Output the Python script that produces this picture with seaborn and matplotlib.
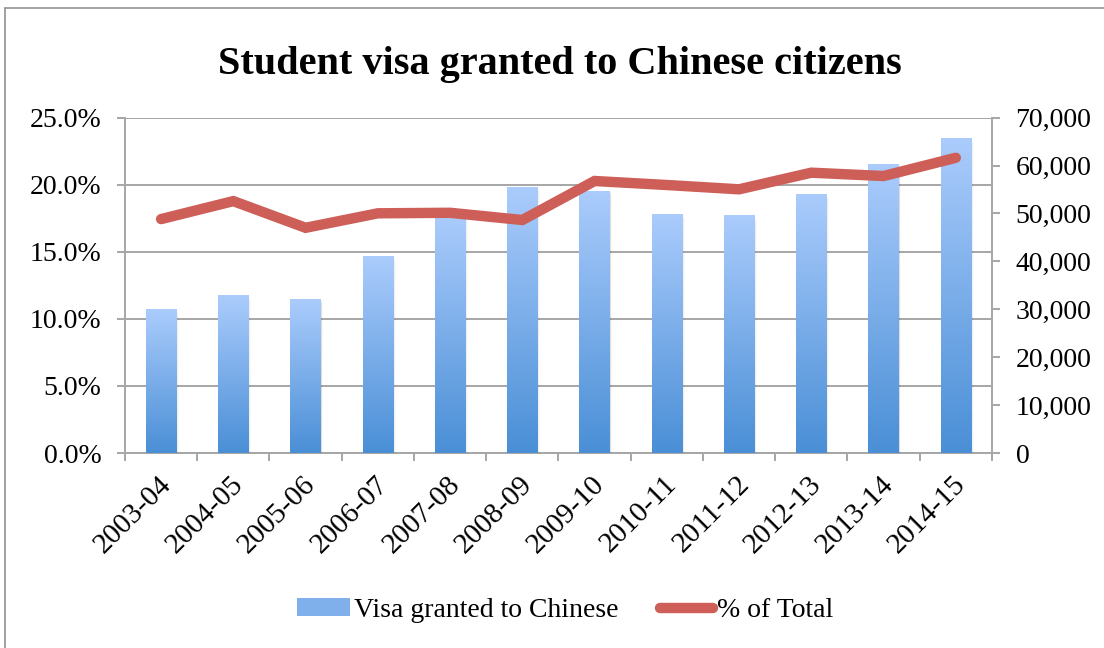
import numpy as np
import pandas as pd
import matplotlib
matplotlib.use("Agg")
import matplotlib.pyplot as plt
import matplotlib.transforms as mtransforms
from matplotlib.patches import Rectangle, Patch
from matplotlib.lines import Line2D
from matplotlib.ticker import FixedLocator, FuncFormatter
import seaborn as sns

# Student visas granted to Chinese citizens, by academic year
years = ["2003-04", "2004-05", "2005-06", "2006-07", "2007-08", "2008-09",
         "2009-10", "2010-11", "2011-12", "2012-13", "2013-14", "2014-15"]
visas = [30000, 32900, 32100, 41100, 49500, 55500,
         54700, 49900, 49600, 54100, 60300, 65700]
share = [0.1744, 0.1878, 0.1679, 0.1787, 0.1791, 0.1737,
         0.2028, 0.1998, 0.1966, 0.2090, 0.2065, 0.2201]

sns.set_theme(style="white")
plt.rcParams["font.family"] = ["Liberation Serif", "DejaVu Serif"]
plt.rcParams["text.color"] = "black"

df = pd.DataFrame({"year": years, "visas": visas, "share": share})
n = len(years)

grid_col = "#A6A6A6"
line_col = "#CD5F58"
top_col = np.array([0.67, 0.80, 0.99])
bot_col = np.array([0.29, 0.56, 0.84])
FS = 20

fig = plt.figure(figsize=(11.04, 6.48), dpi=100)
ax = fig.add_axes([0.1132, 0.3009, 0.7853, 0.5175])
ax_bar = ax.twinx()
ax_line = ax.twinx()

# percent axis: left labels and horizontal gridlines
ax.set_ylim(0, 0.25)
ax.set_xlim(-0.5, n - 0.5)
ax.yaxis.set_major_locator(FixedLocator(np.arange(0, 0.2501, 0.05)))
ax.yaxis.set_major_formatter(FuncFormatter(lambda v, p: f"{v*100:.1f}%"))
ax.grid(axis="y", color=grid_col, linewidth=1.4)
ax.grid(axis="x", visible=False)

# visa counts: bars with gradient fill
sns.barplot(data=df, x="year", y="visas", ax=ax_bar, width=0.42,
            color=bot_col, saturation=1, zorder=3)
ax_bar.set_ylim(0, 70000)
ax_bar.yaxis.set_major_locator(FixedLocator(np.arange(0, 70001, 10000)))
ax_bar.yaxis.set_major_formatter(FuncFormatter(lambda v, p: f"{int(v):,}"))
ax_bar.grid(False)
ax_bar.set_xlabel("")
ax_bar.set_ylabel("")

grad = np.linspace(0, 1, 256)[:, None]
cols = (top_col[None, :] * (1 - grad) + bot_col[None, :] * grad)[:, None, :]
for patch in list(ax_bar.patches):
    x0, y0 = patch.get_x(), patch.get_y()
    w, h = patch.get_width(), patch.get_height()
    # soft shadow to the right of each bar
    for k, a in enumerate((0.07, 0.04, 0.02)):
        ax_bar.add_patch(Rectangle((x0 + 0.012 * (k + 1), y0), w, h - 300 * (k + 1),
                                   facecolor="#000000", alpha=a,
                                   edgecolor="none", zorder=2))
    patch.set_facecolor("none")
    patch.set_edgecolor("none")
    im = ax_bar.imshow(cols, extent=(x0, x0 + w, y0, y0 + h), aspect="auto",
                       origin="upper", zorder=3, interpolation="bilinear")
    im.set_clip_path(patch)
ax_bar.set_xlim(-0.5, n - 0.5)
ax_bar.set_ylim(0, 70000)

# share of total: thick line on top
sns.lineplot(x=np.arange(n), y=share, ax=ax_line, color=line_col,
             linewidth=7.5, sort=False, legend=False)
for ln in ax_line.lines:
    ln.set_solid_capstyle("round")
    ln.set_solid_joinstyle("miter")
ax_line.set_ylim(0, 0.25)
ax_line.set_xlim(-0.5, n - 0.5)
ax_line.set_yticks([])
ax_line.grid(False)
for sp in ax_line.spines.values():
    sp.set_visible(False)

# spines
for a in (ax, ax_bar):
    for sp in a.spines.values():
        sp.set_visible(False)
for a, side in ((ax, "left"), (ax_bar, "right"), (ax, "bottom")):
    a.spines[side].set_visible(True)
    a.spines[side].set_color(grid_col)
    a.spines[side].set_linewidth(1.4)
    a.spines[side].set_zorder(0.5)

ax.tick_params(axis="y", left=True, length=6, width=1.4, color=grid_col,
               labelsize=FS, pad=11, labelcolor="black")
ax_bar.tick_params(axis="y", right=True, length=6, width=1.4, color=grid_col,
                   labelsize=FS, pad=11, labelcolor="black")

# category axis: labels under each bar, tick marks between categories
ax.set_xticks(np.arange(n))
ax.set_xticklabels(years, rotation=45, ha="right", va="top",
                   rotation_mode="anchor", fontsize=FS + 1)
ax.set_xticks(np.arange(-0.5, n), minor=True)
ax.tick_params(axis="x", which="major", bottom=True, length=0, pad=13,
               labelcolor="black")
ax.tick_params(axis="x", which="minor", bottom=True, length=6, width=1.4,
               color=grid_col)
shift = mtransforms.ScaledTranslation(-3 / 100, 0, fig.dpi_scale_trans)
for lab in ax.get_xticklabels():
    lab.set_transform(lab.get_transform() + shift)

# title
fig.text(0.507, 0.900, "Student visa granted to Chinese citizens",
         ha="center", va="center", fontsize=29, fontweight="bold",
         color="black")

# legend
handles = [Patch(facecolor="#7FB0EC", edgecolor="none"),
           Line2D([0], [0], color=line_col, linewidth=7.5, solid_capstyle="round")]
leg = fig.legend(handles, ["Visa granted to Chinese", "% of Total"],
                 loc="center", bbox_to_anchor=(0.512, 0.058), ncol=2,
                 frameon=False, fontsize=FS, handlelength=1.9,
                 handletextpad=0.15, columnspacing=1.5, handleheight=0.6)
for t in leg.get_texts():
    t.set_color("black")

# outer chart frame
fig.add_artist(Rectangle((5 / 1104, -0.02), 1.05, 1 - 8 / 648 + 0.02,
                         transform=fig.transFigure, fill=False,
                         edgecolor="#9A9A9A", linewidth=1.3))

fig.savefig("out.png", dpi=100)
